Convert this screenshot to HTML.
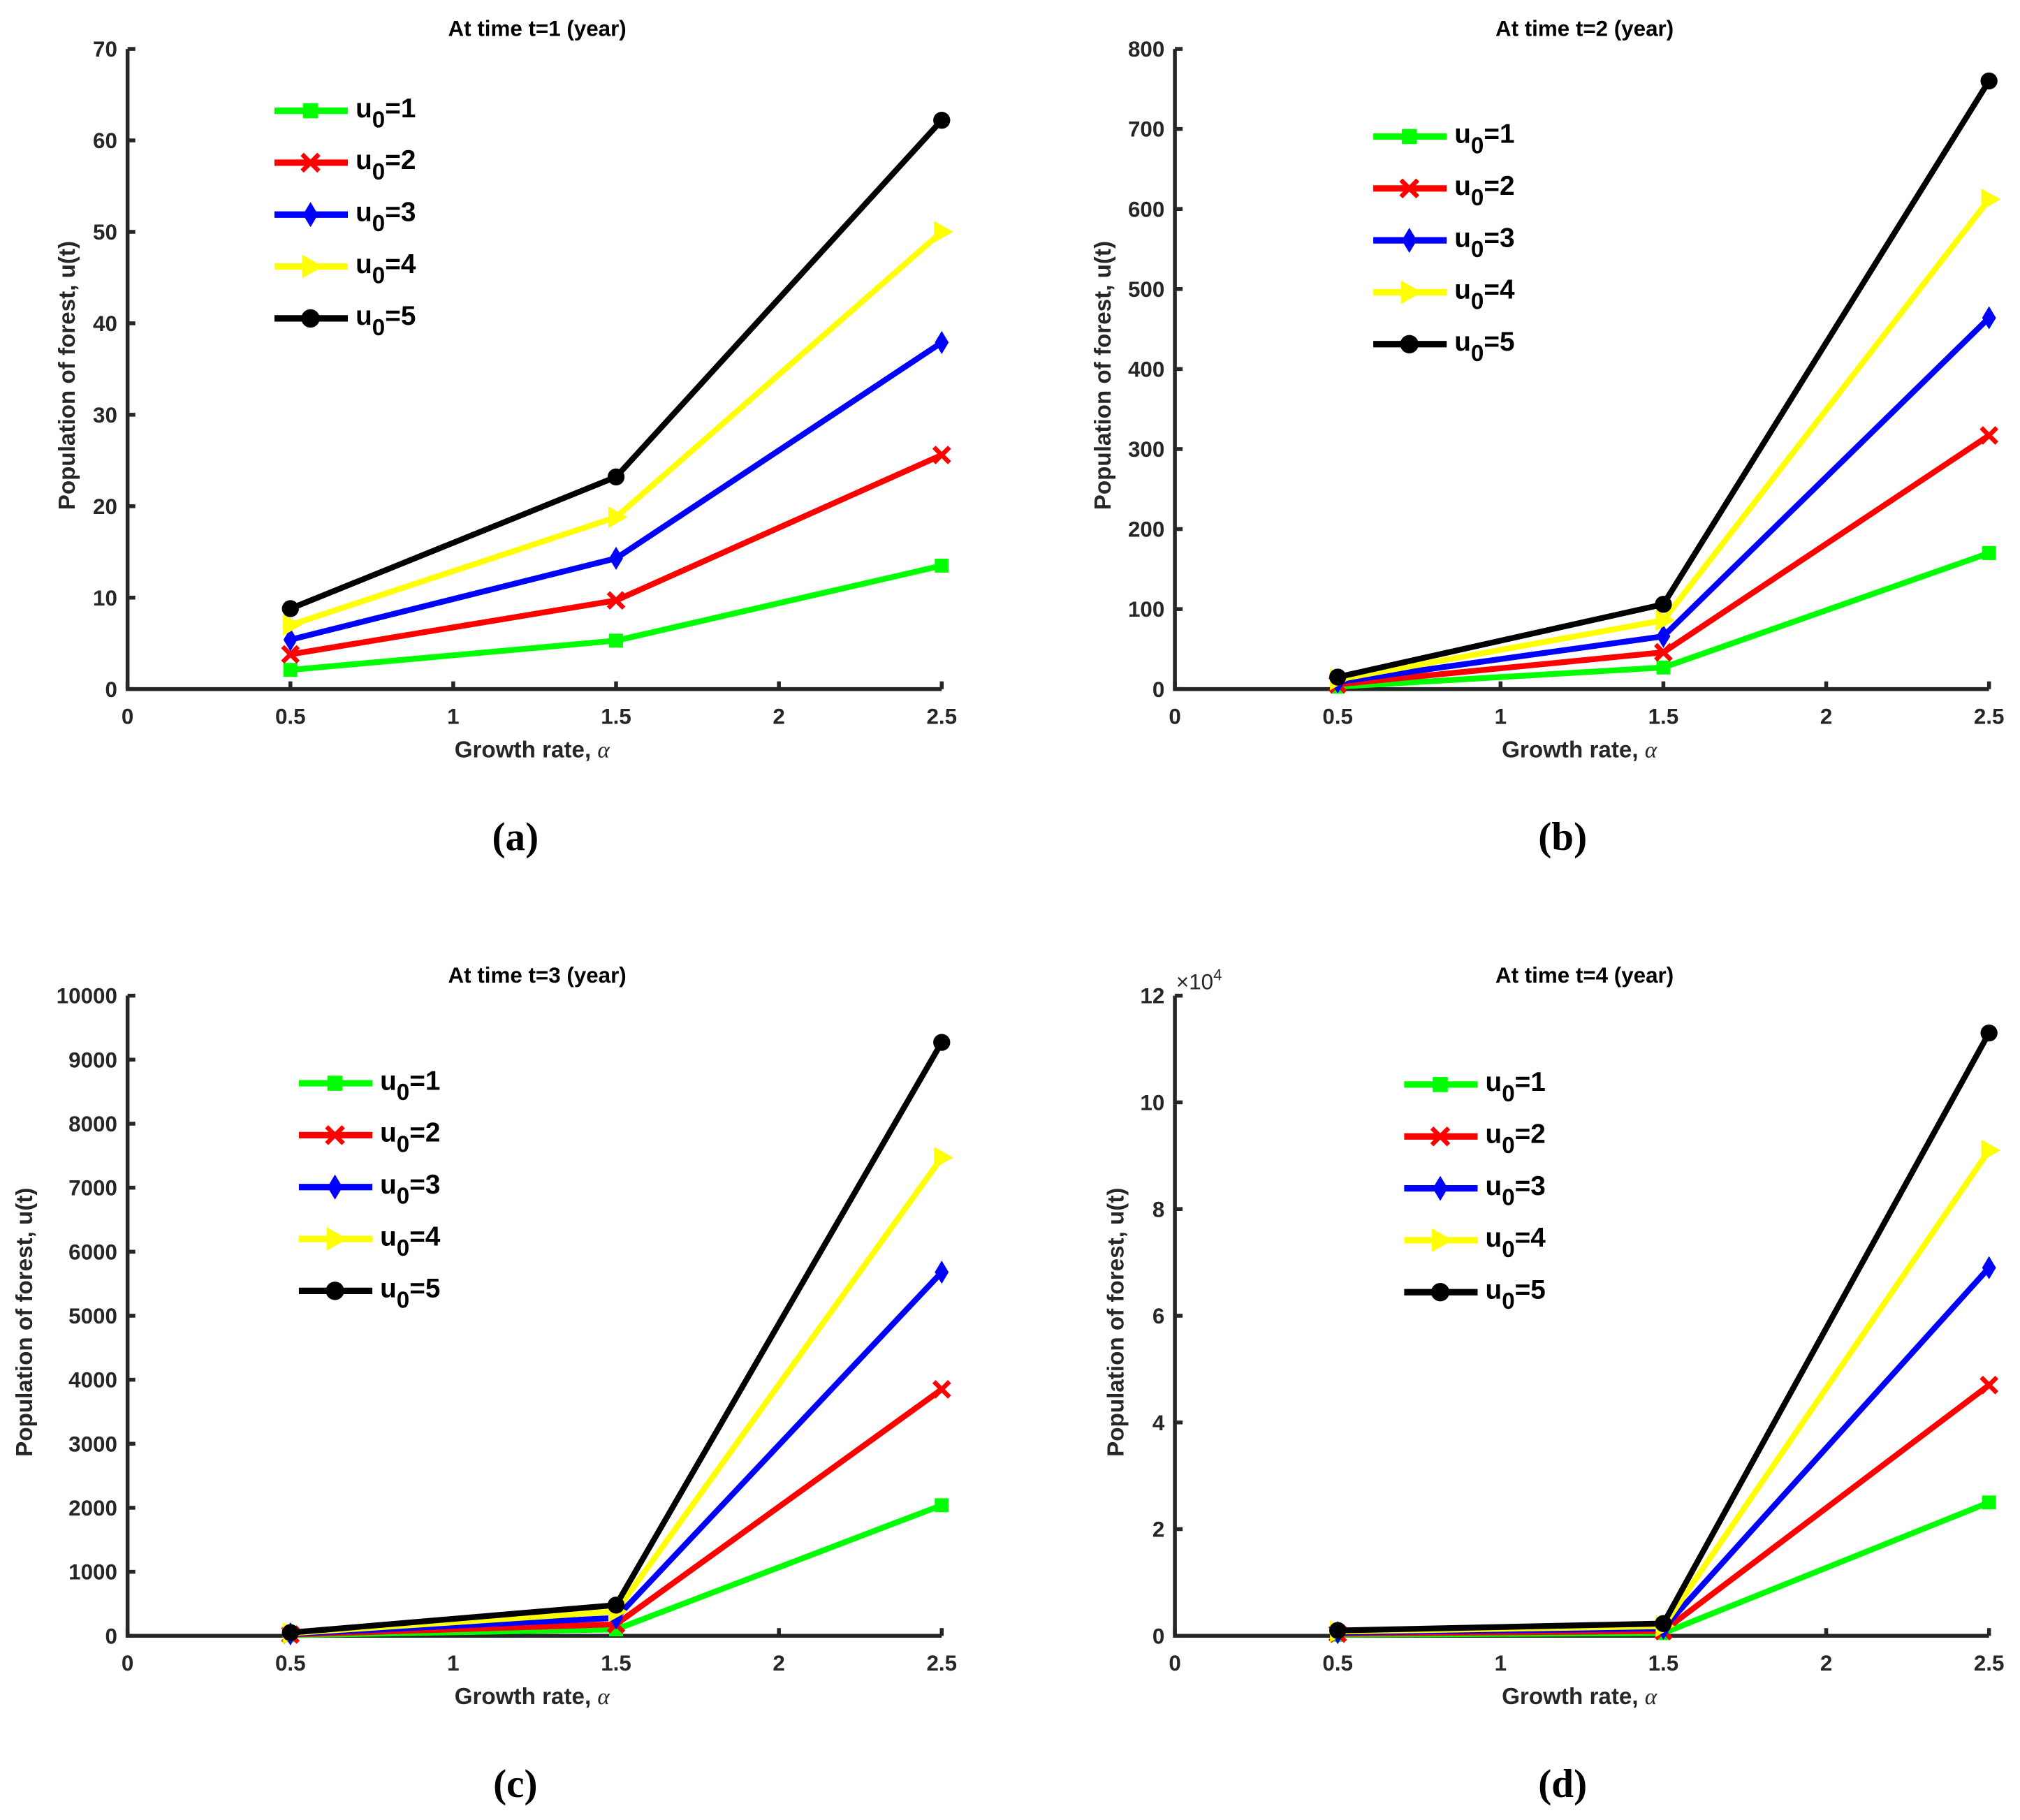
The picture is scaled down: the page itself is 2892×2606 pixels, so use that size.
<!DOCTYPE html>
<html><head><meta charset="utf-8"><style>
html,body{margin:0;padding:0;background:#fff;}
svg{display:block;}
text{font-family:"Liberation Sans",Arial,sans-serif;}
</style></head><body>
<svg id="fig" width="2892" height="2606" viewBox="0 0 1568 1413" xmlns="http://www.w3.org/2000/svg"></svg>
<script>
const xCats = [0.5, 1.5, 2.5];
const xTicks = [0, 0.5, 1, 1.5, 2, 2.5];
const xTickLabels = ["0","0.5","1","1.5","2","2.5"];
const seriesNames = ["u0=1","u0=2","u0=3","u0=4","u0=5"];
const seriesColors = ["#00ff00","#ff0000","#0000ff","#ffff00","#000000"];
const seriesMarkers = ["square","x","diamond","triangle","circle"];
// panel a (t=1)
const aG = [2.1, 5.3, 13.5];
const aR = [3.8, 9.7, 25.6];
const aB = [5.4, 14.3, 37.9];
const aY = [7.0, 18.8, 50.0];
const aK = [8.8, 23.2, 62.2];
const aTicks = [0,10,20,30,40,50,60,70];
// panel b (t=2)
const bG = [3, 27, 170];
const bR = [6, 46, 317];
const bB = [9, 66, 464];
const bY = [12, 86, 612];
const bK = [15, 106, 760];
const bTicks = [0,100,200,300,400,500,600,700,800];
// panel c (t=3)
const cG = [10, 100, 2040];
const cR = [20, 180, 3850];
const cB = [30, 280, 5680];
const cY = [40, 380, 7470];
const cK = [50, 480, 9270];
const cTicks = [0,1000,2000,3000,4000,5000,6000,7000,8000,9000,10000];
// panel d (t=4), units of 1e4
const dG = [0.02, 0.05, 2.5];
const dR = [0.04, 0.09, 4.7];
const dB = [0.06, 0.14, 6.9];
const dY = [0.08, 0.18, 9.1];
const dK = [0.10, 0.23, 11.3];
const dTicks = [0,2,4,6,8,10,12];

const NS = "http://www.w3.org/2000/svg";
const svg = document.getElementById('fig');
function mk(tag, attrs, parent){
  const e = document.createElementNS(NS, tag);
  for (const k in attrs) e.setAttribute(k, attrs[k]);
  (parent||svg).appendChild(e);
  return e;
}
function marker(g, type, x, y, color, s){
  let m;
  if(type==="square"){ m = mk('rect',{x:x-s*0.45,y:y-s*0.45,width:s*0.9,height:s*0.9,fill:color},g); }
  else if(type==="x"){ m = mk('path',{d:`M${x-s/2} ${y-s/2}L${x+s/2} ${y+s/2}M${x-s/2} ${y+s/2}L${x+s/2} ${y-s/2}`,stroke:color,'stroke-width':3.5,fill:'none'},g); }
  else if(type==="diamond"){ m = mk('path',{d:`M${x} ${y-s*0.75}L${x+s*0.45} ${y}L${x} ${y+s*0.75}L${x-s*0.45} ${y}Z`,fill:color},g); }
  else if(type==="triangle"){ m = mk('path',{d:`M${x-s*0.5} ${y-s*0.7}L${x+s*0.75} ${y}L${x-s*0.5} ${y+s*0.7}Z`,fill:color},g); }
  else { m = mk('circle',{cx:x,cy:y,r:s*0.55,fill:color},g); }
  return m;
}
function panel(cfg){
  const g = mk('g',{});
  
  
  const X = v => cfg.x0 + (v - 0) / 2.5 * (cfg.x1 - cfg.x0);
  const ymax = cfg.ticks[cfg.ticks.length-1];
  const Y = v => cfg.y0 - v / ymax * (cfg.y0 - cfg.y1);
  const ax = mk('path',{d:`M${cfg.x0} ${cfg.y1}L${cfg.x0} ${cfg.y0}L${cfg.x1} ${cfg.y0}`,stroke:'#262626','stroke-width':3,fill:'none'},g);
  
  
  cfg.ticks.forEach(t=>{
    mk('line',{x1:cfg.x0,y1:Y(t),x2:cfg.x0+6,y2:Y(t),stroke:'#262626','stroke-width':3},g);
    const tl = mk('text',{x:cfg.x0-8,y:Y(t)+6,'text-anchor':'end','font-size':17,'font-weight':'bold',fill:'#262626'},g);
    tl.textContent = t;
    
    
  });
  xTicks.forEach((t,i)=>{
    mk('line',{x1:X(t),y1:cfg.y0,x2:X(t),y2:cfg.y0-6,stroke:'#262626','stroke-width':3},g);
    const tl = mk('text',{x:X(t),y:cfg.y0+27,'text-anchor':'middle','font-size':17,'font-weight':'bold',fill:'#262626'},g);
    tl.textContent = xTickLabels[i];
    
    
  });
  if(cfg.exp){
    const e = mk('text',{x:cfg.x0+1,y:cfg.y1-5,'font-size':17,fill:'#262626'},g);
    e.innerHTML = '×10<tspan dy="-7" font-size="12">4</tspan>';
    
    
  }
  const ti = mk('text',{x:(cfg.x0+cfg.x1)/2+2,y:cfg.y1-10,'text-anchor':'middle','font-size':17,'font-weight':'bold',fill:'#000'},g);
  ti.textContent = cfg.title;
  
  
  const xl = mk('text',{x:(cfg.x0+cfg.x1)/2-2,y:cfg.y0+53,'text-anchor':'middle','font-size':18,'font-weight':'bold',fill:'#262626'},g);
  xl.innerHTML = 'Growth rate, <tspan style="font-family:\'Liberation Serif\',serif;font-style:italic;font-weight:normal">α</tspan>';
  
  
  const yc = (cfg.y0+cfg.y1)/2 + 5;
  const yl = mk('text',{x:cfg.ylx,y:yc,'text-anchor':'middle','font-size':18,'font-weight':'bold',fill:'#262626',transform:`rotate(-90 ${cfg.ylx} ${yc})`},g);
  yl.textContent = 'Population of forest, u(t)';
  
  
  cfg.data.forEach((vals,si)=>{
    const sg = mk('g',{},g);
    
    
    const pts = vals.map((v,i)=>`${X(xCats[i])},${Y(v)}`).join(' ');
    mk('polyline',{points:pts,stroke:seriesColors[si],'stroke-width':4.5,fill:'none','stroke-linejoin':'round'},sg);
    vals.forEach((v,i)=>{
      const m = marker(sg, seriesMarkers[si], X(xCats[i]), Y(v), seriesColors[si], 12);
      
      
    });
  });
  const lg = mk('g',{},g);
  
  
  seriesNames.forEach((n,si)=>{
    const ly = cfg.ly + si*40.3;
    const eg = mk('g',{},lg);
    
    
    mk('line',{x1:cfg.lx,y1:ly,x2:cfg.lx+57,y2:ly,stroke:seriesColors[si],'stroke-width':5},eg);
    marker(eg, seriesMarkers[si], cfg.lx+28, ly, seriesColors[si], 13);
    const t = mk('text',{x:cfg.lx+63,y:ly+5,'font-size':21,'font-weight':'bold',fill:'#000'},eg);
    t.innerHTML = 'u<tspan dy="8" font-size="18">0</tspan><tspan dy="-8">=' + (si+1) + '</tspan>';
  });
  const cap = mk('text',{x:cfg.capx,y:cfg.capy,'text-anchor':'middle','font-size':31,'font-weight':'bold',fill:'#000',style:"font-family:'Liberation Serif',serif"},g);
  cap.textContent = '(' + cfg.id + ')';
  
  
}
panel({id:'a',x0:99,x1:731,y0:535,y1:38,ticks:aTicks,data:[aG,aR,aB,aY,aK],title:'At time t=1 (year)',ylx:58,lx:213,ly:86,capx:400,capy:660});
panel({id:'b',x0:912,x1:1544,y0:535,y1:38,ticks:bTicks,data:[bG,bR,bB,bY,bK],title:'At time t=2 (year)',ylx:862,lx:1066,ly:106,capx:1213,capy:660});
panel({id:'c',x0:99,x1:731,y0:1270,y1:773,ticks:cTicks,data:[cG,cR,cB,cY,cK],title:'At time t=3 (year)',ylx:25,lx:232,ly:841,capx:400,capy:1395});
panel({id:'d',x0:912,x1:1544,y0:1270,y1:773,ticks:dTicks,data:[dG,dR,dB,dY,dK],title:'At time t=4 (year)',ylx:872,lx:1090,ly:842,capx:1213,capy:1395,exp:true});
</script>
</body></html>
